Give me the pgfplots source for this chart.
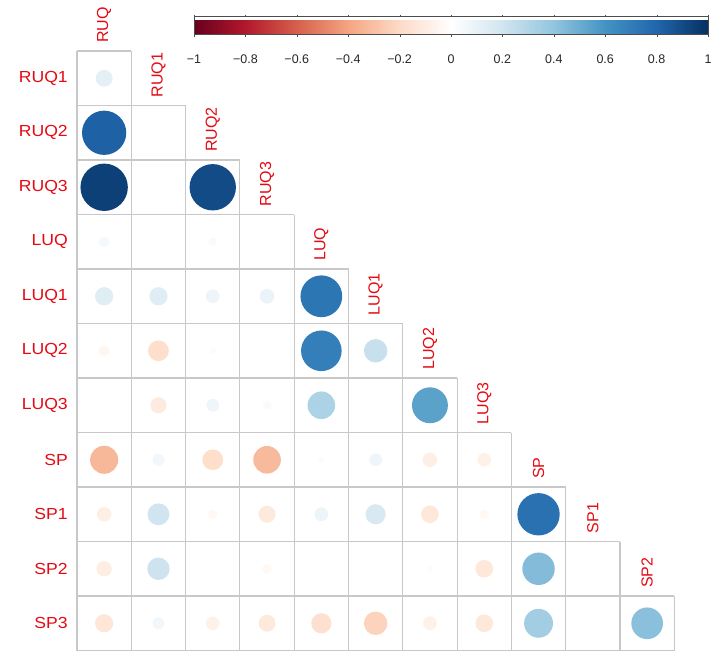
\documentclass[border=0pt]{standalone}
\usepackage{fontspec}
\setmainfont{Liberation Sans}
\usepackage{pgfplots}
\pgfplotsset{compat=1.18}
\usepackage{pgfplotstable}

\pgfplotstableread{
c r v
1 1 0.12
1 2 0.82
2 2 0.01
1 3 0.94
3 3 0.90
1 4 0.05
2 4 0.01
3 4 0.03
4 4 0.01
1 5 0.14
2 5 0.14
3 5 0.08
4 5 0.09
5 5 0.73
1 6 -0.05
2 6 -0.18
3 6 0.02
4 6 0.01
5 6 0.69
6 6 0.23
1 7 0.01
2 7 -0.11
3 7 0.07
4 7 0.03
5 7 0.32
6 7 0.01
7 7 0.54
1 8 -0.33
2 8 0.06
3 8 -0.18
4 8 -0.32
5 8 0.02
6 8 0.07
7 8 -0.09
8 8 -0.08
1 9 -0.09
2 9 0.20
3 9 -0.04
4 9 -0.12
5 9 0.08
6 9 0.17
7 9 -0.13
8 9 -0.04
9 9 0.75
1 10 -0.10
2 10 0.21
4 10 -0.04
5 10 0.01
7 10 0.02
8 10 -0.13
9 10 0.44
10 10 0.01
1 11 -0.14
2 11 0.06
3 11 -0.08
4 11 -0.12
5 11 -0.17
6 11 -0.23
7 11 -0.08
8 11 -0.13
9 11 0.35
10 11 0.01
11 11 0.42
}\corrdata

\pgfplotsset{colormap={rdbu}{rgb255=(103,0,31) rgb255=(178,24,43) rgb255=(214,96,77) rgb255=(244,165,130) rgb255=(253,219,199) rgb255=(255,255,255) rgb255=(209,229,240) rgb255=(146,197,222) rgb255=(67,147,195) rgb255=(33,102,172) rgb255=(5,48,97)}}

\definecolor{labred}{RGB}{228,10,20}
\definecolor{gridgray}{RGB}{200,200,200}
\newcommand{\lab}{\fontsize{16}{16}\selectfont}

\begin{document}
\begin{tikzpicture}
\begin{axis}[
  at={(0,0)}, anchor=north west,
  x=54.3pt, y=54.5pt, y dir=reverse,
  xmin=0.5, xmax=11.5, ymin=0.5, ymax=11.5,
  hide axis, clip=false,
  colormap name=rdbu, point meta min=-1, point meta max=1,
  colorbar horizontal,
  colorbar style={
    at={(parent axis.north west)}, anchor=south west,
    xshift=117pt, yshift=25pt,
    scale only axis, width=514pt, height=18pt,
    xtick={-1,-0.8,-0.6,-0.4,-0.2,0,0.2,0.4,0.6,0.8,1},
    xticklabels={−1,−0.8,−0.6,−0.4,−0.2,0,0.2,0.4,0.6,0.8,1},
    xticklabel style={font=\fontsize{12.5}{13}\selectfont, text=black!85, yshift=-15pt},
    tick align=outside, major tick length=2pt,
    xtick style={black!70},
    axis line style={black!70},
  },
]
% grid
\addplot[gridgray, line width=1.1pt, unbounded coords=jump, forget plot] coordinates {
(0.5,0.5) (1.5,0.5) (nan,nan)
(0.5,1.5) (2.5,1.5) (nan,nan)
(0.5,2.5) (3.5,2.5) (nan,nan)
(0.5,3.5) (4.5,3.5) (nan,nan)
(0.5,4.5) (5.5,4.5) (nan,nan)
(0.5,5.5) (6.5,5.5) (nan,nan)
(0.5,6.5) (7.5,6.5) (nan,nan)
(0.5,7.5) (8.5,7.5) (nan,nan)
(0.5,8.5) (9.5,8.5) (nan,nan)
(0.5,9.5) (10.5,9.5) (nan,nan)
(0.5,10.5) (11.5,10.5) (nan,nan)
(0.5,11.5) (11.5,11.5) (nan,nan)
(0.5,0.5) (0.5,11.5) (nan,nan)
(1.5,0.5) (1.5,11.5) (nan,nan)
(2.5,1.5) (2.5,11.5) (nan,nan)
(3.5,2.5) (3.5,11.5) (nan,nan)
(4.5,3.5) (4.5,11.5) (nan,nan)
(5.5,4.5) (5.5,11.5) (nan,nan)
(6.5,5.5) (6.5,11.5) (nan,nan)
(7.5,6.5) (7.5,11.5) (nan,nan)
(8.5,7.5) (8.5,11.5) (nan,nan)
(9.5,8.5) (9.5,11.5) (nan,nan)
(10.5,9.5) (10.5,11.5) (nan,nan)
(11.5,10.5) (11.5,11.5)
};
% circles
\addplot[scatter, only marks, mark=*, point meta=explicit,
  mark options={draw opacity=0},
  scatter/use mapped color={draw=mapped color, fill=mapped color},
  visualization depends on={0.45*54.3*sqrt(abs(\thisrow{v})) \as \rad},
  scatter/@pre marker code/.append style={/tikz/mark size=\rad}]
  table[x=c, y=r, meta=v] {\corrdata};
% row labels
\begin{scope}[every node/.style={anchor=east, text=labred, font=\lab, inner sep=0pt, xscale=1.1}]
\node at (axis cs:0.334,1) {RUQ1};
\node at (axis cs:0.334,2) {RUQ2};
\node at (axis cs:0.334,3) {RUQ3};
\node at (axis cs:0.334,4) {LUQ};
\node at (axis cs:0.334,5) {LUQ1};
\node at (axis cs:0.334,6) {LUQ2};
\node at (axis cs:0.334,7) {LUQ3};
\node at (axis cs:0.334,8) {SP};
\node at (axis cs:0.334,9) {SP1};
\node at (axis cs:0.334,10) {SP2};
\node at (axis cs:0.334,11) {SP3};
\end{scope}
% column labels
\begin{scope}[every node/.style={anchor=west, rotate=90, text=labred, font=\lab, inner sep=0pt}]
\node at (axis cs:1,0.353) {RUQ};
\node at (axis cs:2,1.353) {RUQ1};
\node at (axis cs:3,2.353) {RUQ2};
\node at (axis cs:4,3.353) {RUQ3};
\node at (axis cs:5,4.353) {LUQ};
\node at (axis cs:6,5.353) {LUQ1};
\node at (axis cs:7,6.353) {LUQ2};
\node at (axis cs:8,7.353) {LUQ3};
\node at (axis cs:9,8.353) {SP};
\node at (axis cs:10,9.353) {SP1};
\node at (axis cs:11,10.353) {SP2};
\end{scope}
\coordinate (bbA) at (axis cs:-0.918,-0.436);
\coordinate (bbB) at (axis cs:12.452,11.711);
\end{axis}
\pgfresetboundingbox
\path[use as bounding box] (bbA) rectangle (bbB);
\end{tikzpicture}
\end{document}
